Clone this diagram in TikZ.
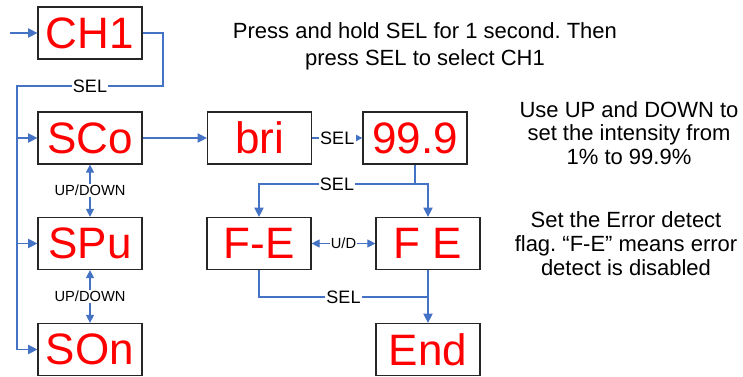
\documentclass[tikz,border=0pt]{standalone}
\usepackage{fontspec}
\setmainfont{Liberation Sans}
\usetikzlibrary{arrows.meta}
\definecolor{linkblue}{RGB}{68,114,196}
\frenchspacing

\begin{document}
\begin{tikzpicture}[x=0.75pt,y=-0.75pt,
    disp/.style={draw=black!85,line width=0.9pt,minimum width=78pt,minimum height=39pt,inner sep=0pt,text=red,font=\fontsize{33}{33}\selectfont},
    flow/.style={linkblue,line width=0.8pt,-{Triangle[length=7pt,width=7pt]}},
    both/.style={linkblue,line width=0.8pt,{Triangle[length=6pt,width=6pt]}-{Triangle[length=6pt,width=6pt]}},
    lbl/.style={fill=white,inner sep=1pt,text=black,font=\fontsize{13.5}{13.5}\selectfont},
    small/.style={fill=white,inner sep=1pt,text=black,font=\fontsize{11}{11}\selectfont},
    note/.style={align=center,font=\fontsize{16.5}{18}\selectfont}]
    \useasboundingbox (0,0) rectangle (743,377);
    % displays
    \node[disp] (ch1) at (90,33) {CH1};
    \node[disp] (sco) at (90,138) {SCo};
    \node[disp] (spu) at (90,243.5) {SPu};
    \node[disp] (son) at (90,349.5) {SOn};
    \node[disp] (bri) at (259.5,138) {bri};
    \node[disp] (val) at (415,138) {99.9};
    \node[disp] (fe1) at (259,243.5) {F-E};
    \node[disp] (fe2) at (428,243.5) {F E};
    \node[disp] (end) at (428,349.5) {End};
    % notes
    \node[note,font=\fontsize{16.5}{20.5}\selectfont] (top) at (425,46) {Press and hold SEL for 1 second. Then\\press SEL to select CH1};
    \node[note,font=\fontsize{16.5}{17.5}\selectfont] (int) at (629,133) {Use UP and DOWN to\\set the intensity from\\1\% to 99.9\%};
    \node[note] (err) at (626,244) {Set the Error detect\\flag. “F-E” means error\\detect is disabled};
    % channel menu
    \coordinate (in) at (10,33);
    \coordinate (turn) at (163,86);
    \coordinate (rail) at (17,86);
    \draw[flow] (in) -- (ch1.west);
    \draw[flow] (ch1.east) -| (turn) -- node[lbl]{SEL} (rail) |- (son.west);
    \draw[flow] (rail |- sco) -- (sco.west);
    \draw[flow] (rail |- spu) -- (spu.west);
    \draw[both] (sco.south) -- node[small]{UP/DOWN} (spu.north);
    \draw[both] (spu.south) -- node[small]{UP/DOWN} (son.north);
    % brightness and error flag
    \draw[flow] (sco.east) -- (bri.west);
    \draw[flow] (bri.east) -- node[lbl]{SEL} (val.west);
    \coordinate (split) at (415,184);
    \draw[linkblue,line width=0.8pt] (val.south) -- (split);
    \draw[flow] (split) -| node[lbl,pos=0.25]{SEL} (fe1.north);
    \draw[flow] (split) -| (fe2.north);
    \draw[both] (fe1.east) -- node[small]{U/D} (fe2.west);
    \coordinate (join) at (428,297);
    \draw[linkblue,line width=0.8pt] (fe1.south) |- node[lbl,pos=0.75]{SEL} (join);
    \draw[flow] (fe2.south) -- (end.north);
\end{tikzpicture}
\end{document}
